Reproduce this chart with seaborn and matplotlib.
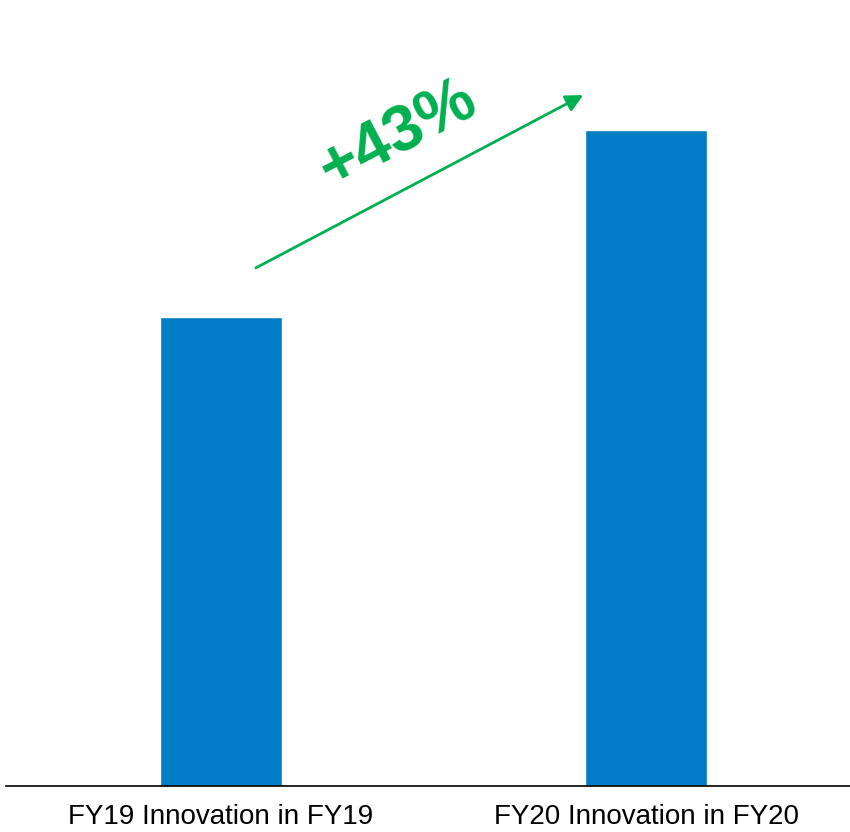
import matplotlib
matplotlib.use("Agg")
import matplotlib.pyplot as plt
import seaborn as sns
import pandas as pd

categories = ["FY19 Innovation in FY19", "FY20 Innovation in FY20"]
values = [100, 140]
growth_label = "+43%"

df = pd.DataFrame({"cat": categories, "val": values})

sns.set_theme(style="white")
plt.rcParams['font.family'] = ['Liberation Sans', 'DejaVu Sans']

fig = plt.figure(figsize=(8.5, 8.32), dpi=100)
ax = fig.add_axes([6/850, (832-785.7)/832, 844/850, 785.7/832])

sns.barplot(data=df, x="cat", y="val", color="#007DC5", saturation=1,
            width=0.285, ax=ax)

ax.set_xlim(-0.506, 1.48)
ax.set_ylim(0, 167.7)
ax.set_xlabel("")
ax.set_ylabel("")
ax.set_yticks([])
for s in ["top", "left", "right"]:
    ax.spines[s].set_visible(False)
ax.spines["bottom"].set_color("black")
ax.spines["bottom"].set_linewidth(1.2)
ax.tick_params(axis="x", length=0, pad=13.5, labelsize=20, colors="black")
ax.patch.set_alpha(0)

green = "#00B050"
ax.annotate("", xy=(0.684, 0.879), xytext=(0.296, 0.659),
            xycoords="axes fraction", textcoords="axes fraction",
            arrowprops=dict(arrowstyle="-|>", color=green, lw=2,
                            mutation_scale=26, shrinkA=0, shrinkB=0))
ax.text(0.4645, 0.828, growth_label, transform=ax.transAxes, rotation=27.7,
        rotation_mode="anchor", ha="center", va="center",
        fontsize=47, fontweight="bold", color=green)

fig.savefig("out.png", dpi=100)
